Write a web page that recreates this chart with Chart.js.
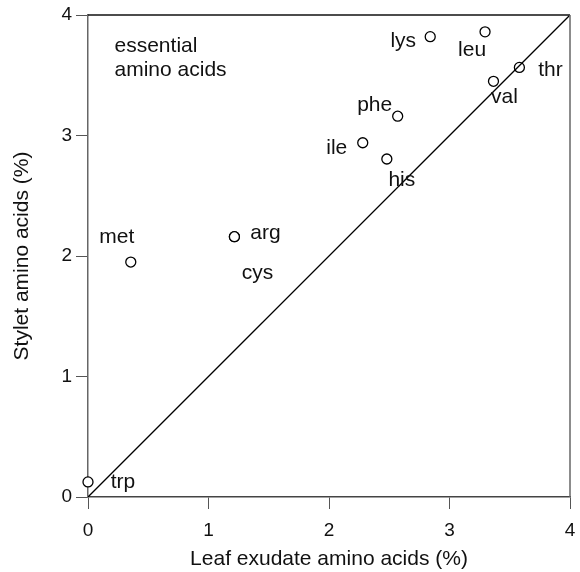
<!DOCTYPE html>
<html lang="en">
<head>
  <meta charset="UTF-8">
  <title>Stylet vs leaf exudate amino acids</title>
  <script src="https://cdn.jsdelivr.net/npm/chart.js"></script>
  <style>
    body { margin: 0; background: #fff; }
    #wrap { width: 580px; height: 572px; }
  </style>
</head>
<body>
  <div id="wrap"><canvas id="aaChart" width="580" height="572"></canvas></div>

  <script>
    // amino acid names and values
    const acids = ['trp', 'met', 'arg', 'cys', 'ile', 'his', 'phe', 'lys', 'leu', 'val', 'thr'];
    const leafExudate = [0.0, 0.355, 1.215, 1.215, 2.28, 2.48, 2.57, 2.84, 3.295, 3.365, 3.58];
    const styletValues = [0.125, 1.95, 2.16, 2.16, 2.94, 2.805, 3.16, 3.82, 3.86, 3.45, 3.565];
    const lineX = [0, 4];
    const lineY = [0, 4];
    const noteLines = ['essential', 'amino acids'];

    // where each name sits relative to its circle (px)
    const labelOffsets = {
      trp: [35, 0], met: [-14, -25], arg: [31, -4], cys: [23, 36],
      ile: [-26, 5], his: [15, 21], phe: [-23, -11], lys: [-27, 5],
      leu: [-13, 18], val: [11, 16], thr: [31, 3]
    };

    const FAMILY = '"Liberation Sans", Arial, sans-serif';
    const FONT = '21px ' + FAMILY;

    const labelPlugin = {
      id: 'pointLabels',
      afterDatasetsDraw(chart) {
        const ctx = chart.ctx;
        const xs = chart.scales.x, ys = chart.scales.y;
        ctx.save();
        ctx.font = FONT;
        ctx.fillStyle = '#111';
        ctx.textAlign = 'center';
        ctx.textBaseline = 'middle';
        acids.forEach((name, i) => {
          const off = labelOffsets[name];
          ctx.fillText(name, xs.getPixelForValue(leafExudate[i]) + off[0], ys.getPixelForValue(styletValues[i]) + off[1]);
        });
        // note in the upper left corner
        ctx.textAlign = 'left';
        ctx.fillText(noteLines[0], xs.getPixelForValue(0.22), ys.getPixelForValue(3.74));
        ctx.fillText(noteLines[1], xs.getPixelForValue(0.22), ys.getPixelForValue(3.54));
        // box: top and right edges
        const a = chart.chartArea;
        ctx.lineWidth = 1.5;
        ctx.strokeStyle = '#111';
        ctx.beginPath();
        ctx.moveTo(a.left, a.top);
        ctx.lineTo(a.right, a.top);
        ctx.stroke();
        ctx.strokeStyle = '#666';
        ctx.beginPath();
        ctx.moveTo(a.right, a.top);
        ctx.lineTo(a.right, a.bottom);
        ctx.stroke();
        ctx.restore();
      }
    };

    const ctx = document.getElementById('aaChart').getContext('2d');
    new Chart(ctx, {
      type: 'scatter',
      data: {
        datasets: [
          {
            label: '1:1',
            type: 'line',
            data: lineX.map((x, i) => ({ x: x, y: lineY[i] })),
            borderColor: '#000',
            borderWidth: 1.3,
            pointRadius: 0,
            fill: false
          },
          {
            label: 'amino acids',
            data: leafExudate.map((x, i) => ({ x: x, y: styletValues[i] })),
            clip: false,
            pointRadius: 5,
            pointBorderWidth: 1.3,
            pointBorderColor: '#000',
            pointBackgroundColor: '#fff'
          }
        ]
      },
      options: {
        responsive: false,
        animation: false,
        layout: { padding: { left: 0, top: 15, right: 10, bottom: 0 } },
        plugins: { legend: { display: false }, tooltip: { enabled: false } },
        scales: {
          x: {
            type: 'linear',
            min: 0, max: 4,
            afterFit(scale) {
              scale.height = 75;
              scale.paddingLeft = 0;
              scale.paddingRight = 0;
            },
            ticks: { stepSize: 1, color: '#111', font: { family: FAMILY, size: 19 }, padding: 10 },
            grid: { drawOnChartArea: false, drawTicks: true, tickLength: 12, tickColor: '#555' },
            border: { display: true, color: '#444', width: 1.5 },
            title: {
              display: true,
              text: 'Leaf exudate amino acids (%)',
              color: '#111',
              font: { family: FAMILY, size: 21 },
              padding: { top: 0, bottom: 0 }
            }
          },
          y: {
            type: 'linear',
            min: 0, max: 4,
            afterFit(scale) {
              scale.width = 88;
              scale.paddingTop = 0;
              scale.paddingBottom = 0;
            },
            ticks: { stepSize: 1, color: '#111', font: { family: FAMILY, size: 19 }, padding: 4 },
            grid: { drawOnChartArea: false, drawTicks: true, tickLength: 12, tickColor: '#555' },
            border: { display: true, color: '#666', width: 1.5 },
            title: {
              display: true,
              text: 'Stylet amino acids (%)',
              color: '#111',
              font: { family: FAMILY, size: 21 },
              padding: { top: 10, bottom: 0 }
            }
          }
        }
      },
      plugins: [labelPlugin]
    });
  </script>
</body>
</html>
